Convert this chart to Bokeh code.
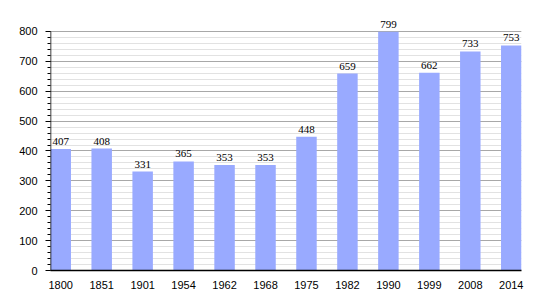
from bokeh.plotting import figure
from bokeh.models import ColumnDataSource, FixedTicker, Range1d, LabelSet
from bokeh.embed import file_html
from bokeh.resources import INLINE

years = ["1800", "1851", "1901", "1954", "1962", "1968", "1975", "1982", "1990", "1999", "2008", "2014"]
population = [407, 408, 331, 365, 353, 353, 448, 659, 799, 662, 733, 753]
y_ticks = [0, 100, 200, 300, 400, 500, 600, 700, 800]

xs = list(range(len(years)))
src = ColumnDataSource(dict(x=xs, top=population, label=[str(v) for v in population]))

x_start, x_end = -0.25, len(years) - 0.75
y_max = y_ticks[-1]

p = figure(width=550, height=300, output_backend="svg", toolbar_location=None,
           x_range=Range1d(x_start, x_end), y_range=Range1d(0, y_max * 1.05),
           min_border_left=50, min_border_right=29, min_border_top=19, min_border_bottom=30)
p.outline_line_color = None
p.background_fill_color = "white"

p.vbar(x="x", top="top", width=0.5, bottom=0, source=src, fill_color="#99aaff", line_color=None)

# left axis line only up to the last tick
p.segment(x0=[x_start], y0=[0], x1=[x_start], y1=[y_max], line_color="black", line_width=1.5)

labels = LabelSet(x="x", y="top", text="label", source=src, text_align="center",
                  text_baseline="bottom", y_offset=4, text_font="Liberation Sans",
                  text_font_size="11px", text_color="black")
p.add_layout(labels)

p.xaxis.ticker = FixedTicker(ticks=xs)
p.xaxis.major_label_overrides = {i: y for i, y in enumerate(years)}
p.xaxis.major_tick_line_color = None
p.xaxis.minor_tick_line_color = None
p.xaxis.axis_line_color = "black"
p.xaxis.axis_line_width = 1.5
p.xaxis.major_label_standoff = 4
p.xaxis.major_label_text_font = "Liberation Sans"
p.xaxis.major_label_text_font_size = "11px"
p.xaxis.major_label_text_color = "black"

p.yaxis.ticker = FixedTicker(ticks=y_ticks, minor_ticks=list(range(0, y_max + 1, 20)))
p.yaxis.axis_line_color = None
p.yaxis.major_tick_out = 5
p.yaxis.major_tick_in = 0
p.yaxis.minor_tick_out = 3
p.yaxis.minor_tick_in = 0
p.yaxis.major_tick_line_color = "black"
p.yaxis.minor_tick_line_color = "black"
p.yaxis.major_label_standoff = 8
p.yaxis.major_label_text_font = "Liberation Sans"
p.yaxis.major_label_text_font_size = "11px"
p.yaxis.major_label_text_color = "black"

p.xgrid.grid_line_color = None
p.ygrid.grid_line_color = "#a8a8a8"
p.ygrid.minor_grid_line_color = "#e2e2e2"
p.ygrid.level = "underlay"

open("out.html", "w").write(file_html(p, INLINE))
